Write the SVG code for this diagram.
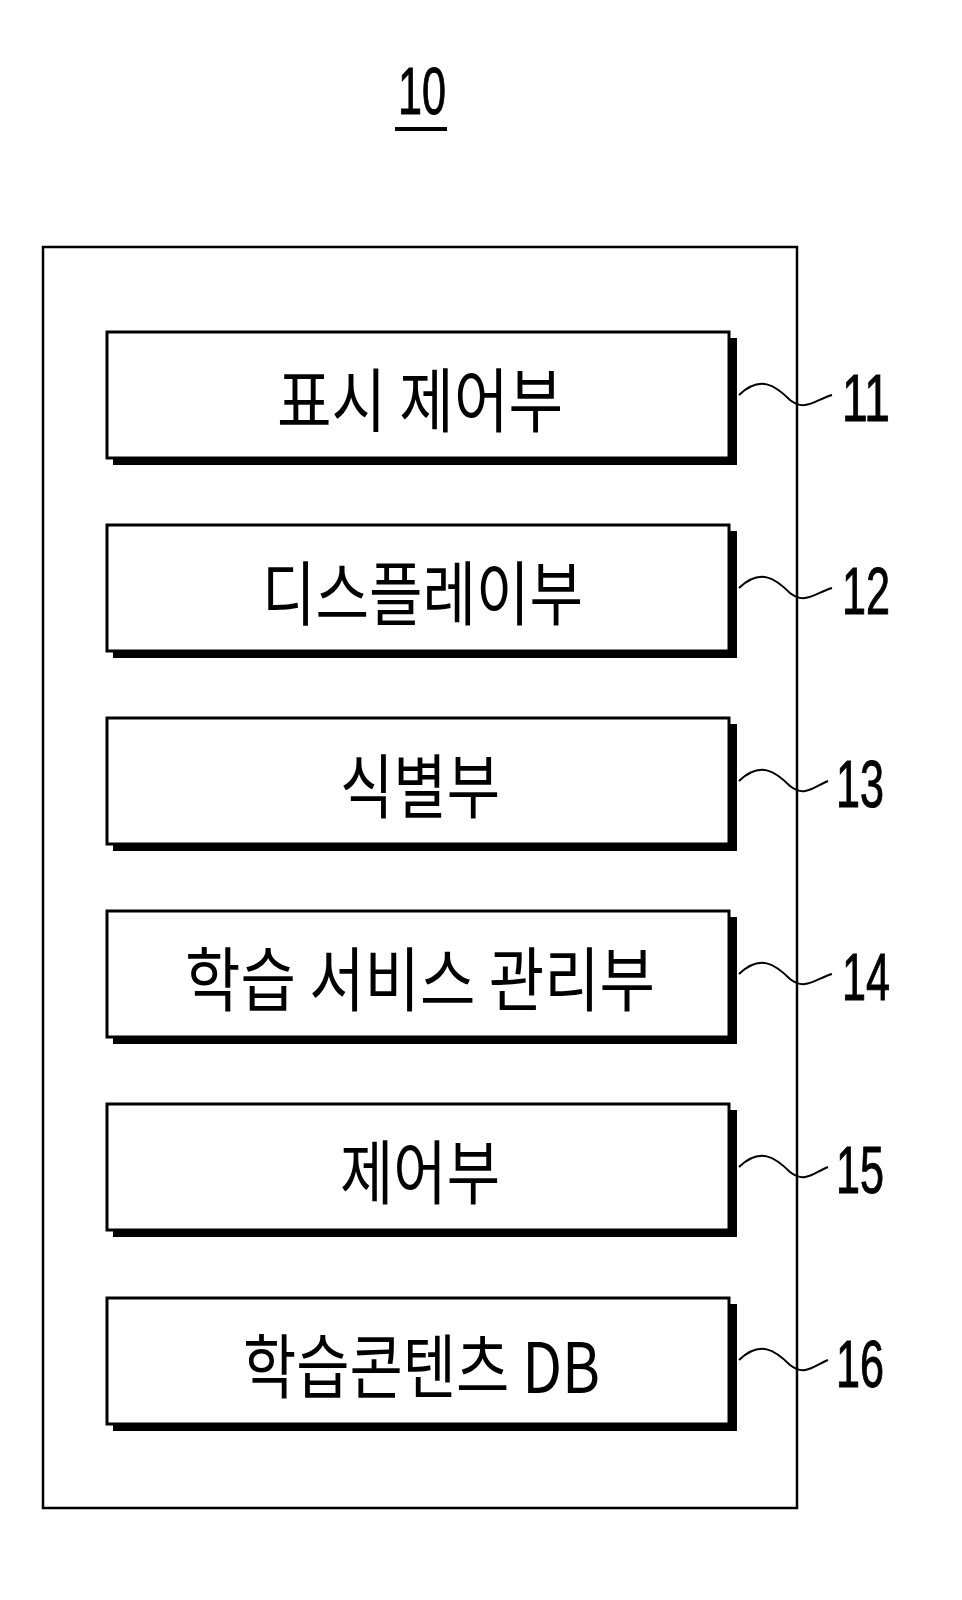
<svg xmlns="http://www.w3.org/2000/svg" width="962" height="1600" viewBox="0 0 962 1600">
<style>
.box{fill:#fff;stroke:#000;stroke-width:3}
.sh{fill:#000}
.t{font-family:"Noto Sans CJK KR","Liberation Sans",sans-serif;font-size:70px;fill:#000}
.n{font-family:"Liberation Sans Narrow","Liberation Sans",sans-serif;font-size:66px;fill:#000;stroke:#000;stroke-width:1}
.w{fill:none;stroke:#000;stroke-width:2}
</style>
<rect width="962" height="1600" fill="#fff"/>
<g id="title"><text class="n" x="398" y="114" textLength="48" lengthAdjust="spacingAndGlyphs">10</text><line x1="395" y1="129" x2="447" y2="129" stroke="#000" stroke-width="4"/></g>
<rect id="frame" x="43" y="247" width="754" height="1261" fill="none" stroke="#000" stroke-width="2.5"/>
<g id="n11"><rect class="sh" x="113" y="338" width="624" height="127"/><rect class="box" x="107" y="332" width="622" height="126"/><text class="t" x="277" y="427" textLength="286" lengthAdjust="spacingAndGlyphs">표시 제어부</text><text class="n" x="842" y="421" textLength="48" lengthAdjust="spacingAndGlyphs">11</text></g>
<g id="n12"><rect class="sh" x="113" y="531" width="624" height="127"/><rect class="box" x="107" y="525" width="622" height="126"/><text class="t" x="262" y="620" textLength="321" lengthAdjust="spacingAndGlyphs">디스플레이부</text><text class="n" x="842" y="614" textLength="48" lengthAdjust="spacingAndGlyphs">12</text></g>
<g id="n13"><rect class="sh" x="113" y="724" width="624" height="127"/><rect class="box" x="107" y="718" width="622" height="126"/><text class="t" x="340" y="813" textLength="160" lengthAdjust="spacingAndGlyphs">식별부</text><text class="n" x="836" y="807" textLength="48" lengthAdjust="spacingAndGlyphs">13</text></g>
<g id="n14"><rect class="sh" x="113" y="917" width="624" height="127"/><rect class="box" x="107" y="911" width="622" height="126"/><text class="t" x="185" y="1006" textLength="470" lengthAdjust="spacingAndGlyphs">학습 서비스 관리부</text><text class="n" x="842" y="1000" textLength="48" lengthAdjust="spacingAndGlyphs">14</text></g>
<g id="n15"><rect class="sh" x="113" y="1110" width="624" height="127"/><rect class="box" x="107" y="1104" width="622" height="126"/><text class="t" x="340" y="1199" textLength="160" lengthAdjust="spacingAndGlyphs">제어부</text><text class="n" x="836" y="1193" textLength="48" lengthAdjust="spacingAndGlyphs">15</text></g>
<g id="n16"><rect class="sh" x="113" y="1304" width="624" height="127"/><rect class="box" x="107" y="1298" width="622" height="126"/><text class="t" x="243" y="1393" textLength="357" lengthAdjust="spacingAndGlyphs">학습콘텐츠 DB</text><text class="n" x="836" y="1387" textLength="48" lengthAdjust="spacingAndGlyphs">16</text></g>
<g id="connectors">
<path class="w" d="M739,395 C760,375 775,385 790,400 C805,412 815,400 832,395"/>
<path class="w" d="M739,588 C760,568 775,578 790,593 C805,605 815,593 832,588"/>
<path class="w" d="M739,781 C760,761 775,771 790,786 C805,798 815,786 828,781"/>
<path class="w" d="M739,974 C760,954 775,964 790,979 C805,991 815,979 832,974"/>
<path class="w" d="M739,1167 C760,1147 775,1157 790,1172 C805,1184 815,1172 828,1167"/>
<path class="w" d="M739,1360 C760,1340 775,1350 790,1365 C805,1377 815,1365 828,1360"/>
</g>
</svg>
